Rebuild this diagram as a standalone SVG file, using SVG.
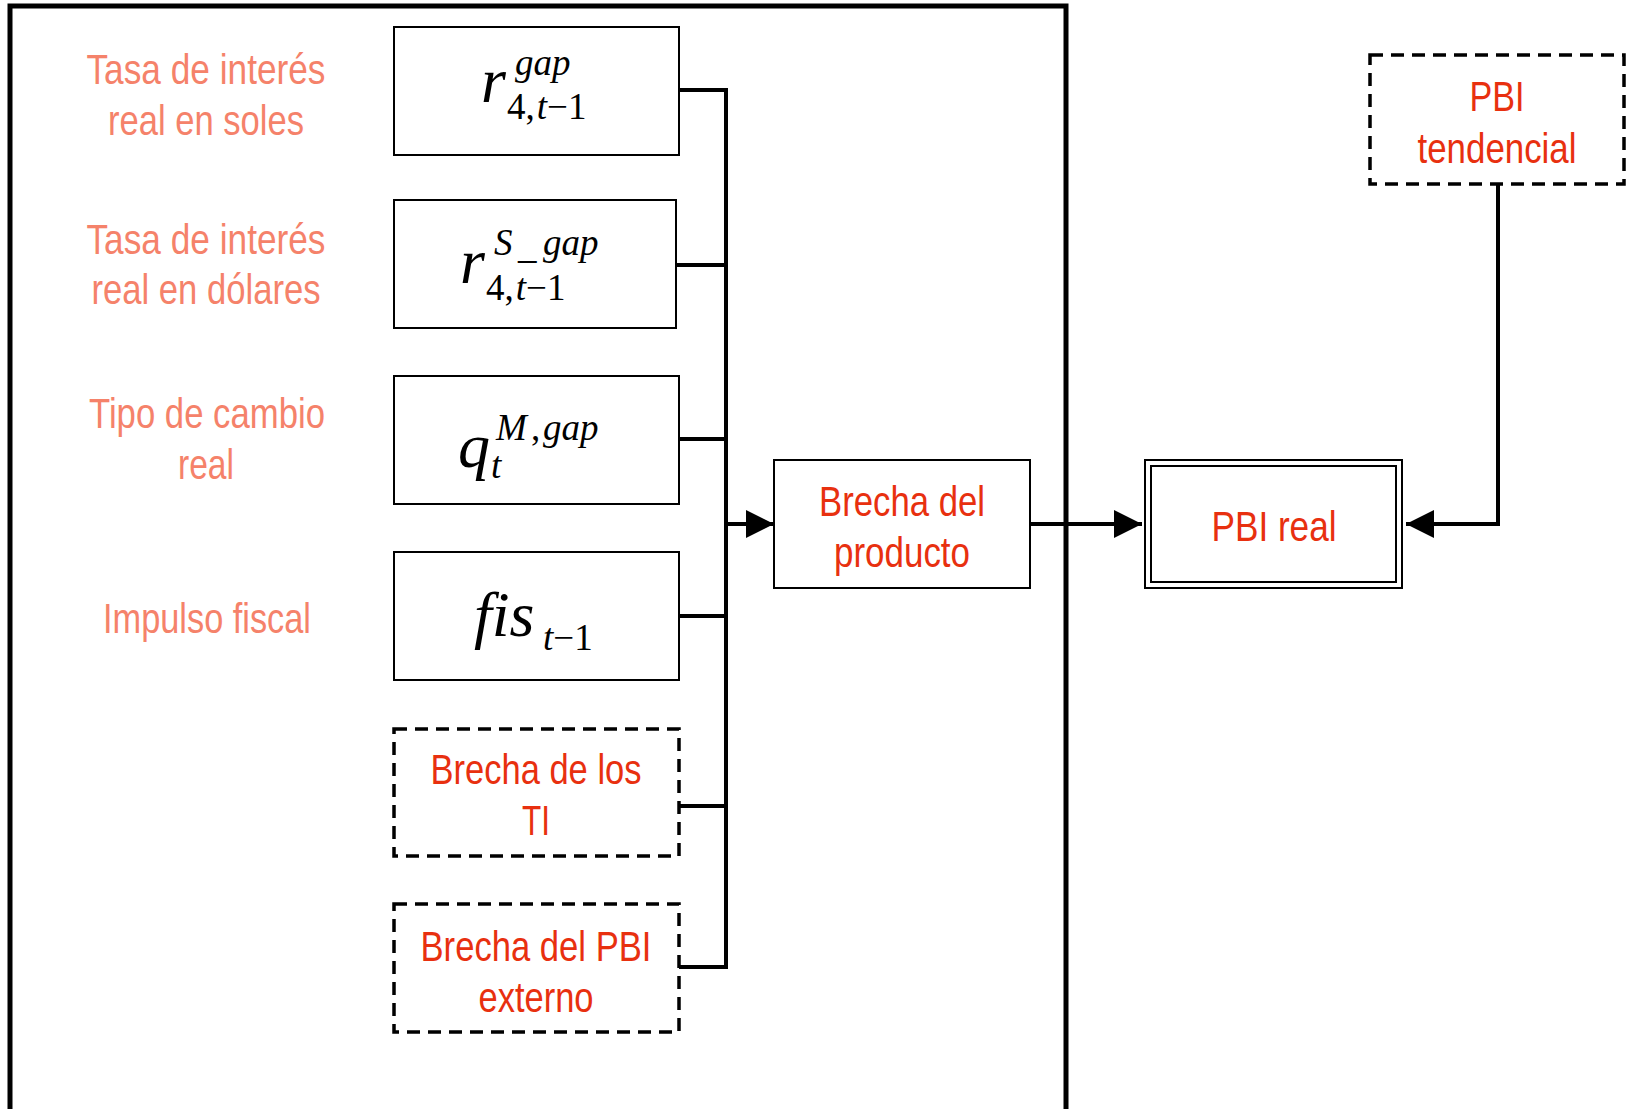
<svg xmlns="http://www.w3.org/2000/svg" width="1627" height="1109" viewBox="0 0 1627 1109">
<style>
.box{fill:#fff;stroke:#000;stroke-width:2}
.dash{fill:#fff;stroke:#000;stroke-width:3.5;stroke-dasharray:13 8}
.conn{fill:none;stroke:#000;stroke-width:4}
.lbl{font-family:"Liberation Sans",Arial,sans-serif;font-size:42px;fill:#F5826A;text-anchor:middle}
.red{font-family:"Liberation Sans",Arial,sans-serif;font-size:42px;fill:#E8300F;text-anchor:middle}
.m{font-family:"Liberation Serif","Times New Roman",serif;font-size:64px;font-style:italic;fill:#000}
.s{font-family:"Liberation Serif","Times New Roman",serif;font-size:37px;fill:#000}
.i{font-style:italic}
</style>
<defs>
<marker id="arr" viewBox="0 0 28 28" refX="28" refY="14" markerWidth="28" markerHeight="28" markerUnits="userSpaceOnUse" orient="auto">
<path d="M0,0 L28,14 L0,28 z" fill="#000"/>
</marker>
</defs>
<rect x="0" y="0" width="1627" height="1109" fill="#fff"/>
<g id="frame">
<rect x="10" y="6" width="1056" height="1200" fill="none" stroke="#000" stroke-width="5"/>
</g>
<g id="labels">
<text class="lbl" x="206" y="84" textLength="239" lengthAdjust="spacingAndGlyphs">Tasa de interés</text>
<text class="lbl" x="206" y="135" textLength="196" lengthAdjust="spacingAndGlyphs">real en soles</text>
<text class="lbl" x="206" y="254" textLength="239" lengthAdjust="spacingAndGlyphs">Tasa de interés</text>
<text class="lbl" x="206" y="304" textLength="229" lengthAdjust="spacingAndGlyphs">real en dólares</text>
<text class="lbl" x="207" y="428" textLength="236" lengthAdjust="spacingAndGlyphs">Tipo de cambio</text>
<text class="lbl" x="206" y="479" textLength="56" lengthAdjust="spacingAndGlyphs">real</text>
<text class="lbl" x="207" y="633" textLength="208" lengthAdjust="spacingAndGlyphs">Impulso fiscal</text>
</g>
<g id="connectors">
<path class="conn" d="M679,90 H726 V967 H679"/>
<path class="conn" d="M676,265 H726"/>
<path class="conn" d="M679,439 H726"/>
<path class="conn" d="M679,616 H726"/>
<path class="conn" d="M679,806 H726"/>
<path class="conn" d="M726,524 H774" marker-end="url(#arr)"/>
<path class="conn" d="M1030,524 H1142" marker-end="url(#arr)"/>
<path class="conn" d="M1498,184 V524 H1406" marker-end="url(#arr)"/>
</g>
<g id="node-r">
<rect class="box" x="394" y="27" width="285" height="128"/>
<text class="m" x="481" y="102">r</text>
<text class="s i" x="515" y="75">gap</text>
<text class="s" x="507" y="119">4,<tspan class="i" dx="2">t</tspan>−1</text>
</g>
<g id="node-rs">
<rect class="box" x="394" y="200" width="282" height="128"/>
<text class="m" x="460" y="283">r</text>
<text class="s" x="494" y="255"><tspan class="i">S</tspan></text>
<text class="s" x="518" y="258">_</text>
<text class="s i" x="543" y="255">gap</text>
<text class="s" x="486" y="300">4,<tspan class="i" dx="2">t</tspan>−1</text>
</g>
<g id="node-q">
<rect class="box" x="394" y="376" width="285" height="128"/>
<text class="m" x="458" y="467">q</text>
<text class="s i" x="496" y="440">M</text>
<text class="s" x="531" y="440">,</text>
<text class="s i" x="543" y="440">gap</text>
<text class="s i" x="491" y="478">t</text>
</g>
<g id="node-fis">
<rect class="box" x="394" y="552" width="285" height="128"/>
<text class="m" x="474" y="636">fis</text>
<text class="s" x="543" y="650"><tspan class="i">t</tspan>−1</text>
</g>
<g id="node-ti">
<rect class="dash" x="394" y="729" width="285" height="127"/>
<text class="red" x="536" y="784" textLength="211" lengthAdjust="spacingAndGlyphs">Brecha de los</text>
<text class="red" x="536" y="835" textLength="28" lengthAdjust="spacingAndGlyphs">TI</text>
</g>
<g id="node-pbiext">
<rect class="dash" x="394" y="904" width="285" height="128"/>
<text class="red" x="536" y="961" textLength="231" lengthAdjust="spacingAndGlyphs">Brecha del PBI</text>
<text class="red" x="536" y="1012" textLength="115" lengthAdjust="spacingAndGlyphs">externo</text>
</g>
<g id="node-brecha">
<rect class="box" x="774" y="460" width="256" height="128"/>
<text class="red" x="902" y="516" textLength="166" lengthAdjust="spacingAndGlyphs">Brecha del</text>
<text class="red" x="902" y="567" textLength="136" lengthAdjust="spacingAndGlyphs">producto</text>
</g>
<g id="node-pbireal">
<rect class="box" x="1145" y="460" width="257" height="128"/>
<rect class="box" x="1151" y="466" width="245" height="116"/>
<text class="red" x="1274" y="541" textLength="125" lengthAdjust="spacingAndGlyphs">PBI real</text>
</g>
<g id="node-pbitend">
<rect class="dash" x="1370" y="55" width="254" height="129"/>
<text class="red" x="1497" y="111" textLength="55" lengthAdjust="spacingAndGlyphs">PBI</text>
<text class="red" x="1497" y="163" textLength="159" lengthAdjust="spacingAndGlyphs">tendencial</text>
</g>
</svg>
